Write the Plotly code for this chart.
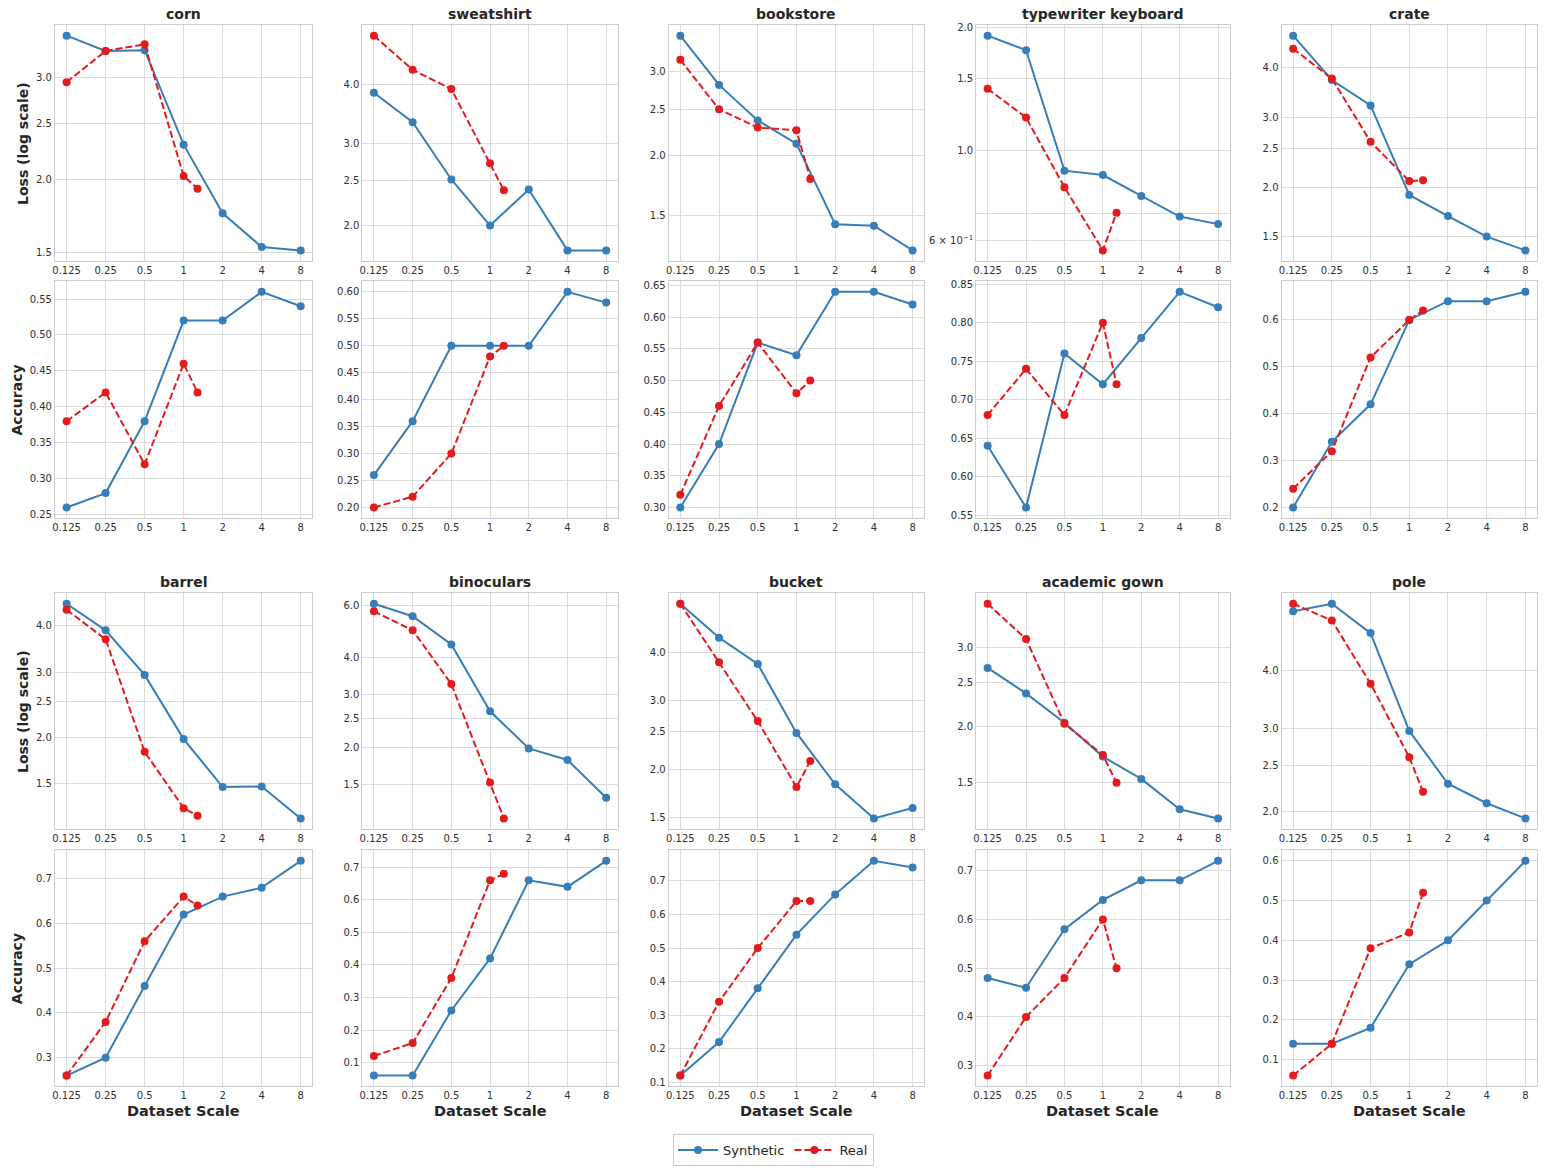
import math
import plotly.graph_objects as go

# ---------------- data ----------------
class_names = ["corn", "sweatshirt", "bookstore", "typewriter keyboard", "crate",
               "barrel", "binoculars", "bucket", "academic gown", "pole"]
syn_scale = [0.125, 0.25, 0.5, 1, 2, 4, 8]
real_scale = [0.125, 0.25, 0.5, 1, 1.28]
x_tick_vals = [0.125, 0.25, 0.5, 1, 2, 4, 8]
x_tick_text = ["0.125", "0.25", "0.5", "1", "2", "4", "8"]
loss_tick_vals = [0.6, 0.7, 1.0, 1.5, 2.0, 2.5, 3.0, 4.0, 6.0]
loss_tick_text = ["6 × 10<sup>−1</sup>", " ", "1.0", "1.5", "2.0", "2.5", "3.0", "4.0", "6.0"]

corn_syn_loss = [3.55, 3.34, 3.35, 2.30, 1.75, 1.53, 1.51]
corn_real_loss = [2.95, 3.34, 3.43, 2.03, 1.93]
sweatshirt_syn_loss = [3.85, 3.33, 2.51, 2.00, 2.39, 1.77, 1.77]
sweatshirt_real_loss = [5.10, 4.31, 3.92, 2.72, 2.38]
bookstore_syn_loss = [3.56, 2.81, 2.37, 2.12, 1.44, 1.43, 1.27]
bookstore_real_loss = [3.17, 2.50, 2.29, 2.26, 1.79]
typewriter_syn_loss = [1.915, 1.764, 0.892, 0.870, 0.773, 0.688, 0.659]
typewriter_real_loss = [1.418, 1.205, 0.812, 0.568, 0.703]
crate_syn_loss = [4.81, 3.72, 3.21, 1.91, 1.69, 1.50, 1.385]
crate_real_loss = [4.46, 3.75, 2.60, 2.07, 2.08]
barrel_syn_loss = [4.59, 3.89, 2.95, 1.98, 1.47, 1.475, 1.21]
barrel_real_loss = [4.42, 3.68, 1.83, 1.29, 1.23]
binoculars_syn_loss = [6.08, 5.52, 4.43, 2.64, 1.98, 1.81, 1.35]
binoculars_real_loss = [5.73, 4.95, 3.26, 1.52, 1.15]
bucket_syn_loss = [5.33, 4.36, 3.73, 2.48, 1.83, 1.495, 1.59]
bucket_real_loss = [5.33, 3.77, 2.66, 1.80, 2.10]
gown_syn_loss = [2.70, 2.37, 2.04, 1.715, 1.53, 1.31, 1.25]
gown_real_loss = [3.75, 3.13, 2.03, 1.73, 1.50]
pole_syn_loss = [5.36, 5.56, 4.81, 2.97, 2.29, 2.08, 1.93]
pole_real_loss = [5.56, 5.12, 3.75, 2.61, 2.20]

corn_syn_acc = [0.26, 0.28, 0.38, 0.52, 0.52, 0.56, 0.54]
corn_real_acc = [0.38, 0.42, 0.32, 0.46, 0.42]
sweatshirt_syn_acc = [0.26, 0.36, 0.50, 0.50, 0.50, 0.60, 0.58]
sweatshirt_real_acc = [0.20, 0.22, 0.30, 0.48, 0.50]
bookstore_syn_acc = [0.30, 0.40, 0.56, 0.54, 0.64, 0.64, 0.62]
bookstore_real_acc = [0.32, 0.46, 0.56, 0.48, 0.50]
typewriter_syn_acc = [0.64, 0.56, 0.76, 0.72, 0.78, 0.84, 0.82]
typewriter_real_acc = [0.68, 0.74, 0.68, 0.80, 0.72]
crate_syn_acc = [0.20, 0.34, 0.42, 0.60, 0.64, 0.64, 0.66]
crate_real_acc = [0.24, 0.32, 0.52, 0.60, 0.62]
barrel_syn_acc = [0.26, 0.30, 0.46, 0.62, 0.66, 0.68, 0.74]
barrel_real_acc = [0.26, 0.38, 0.56, 0.66, 0.64]
binoculars_syn_acc = [0.06, 0.06, 0.26, 0.42, 0.66, 0.64, 0.72]
binoculars_real_acc = [0.12, 0.16, 0.36, 0.66, 0.68]
bucket_syn_acc = [0.12, 0.22, 0.38, 0.54, 0.66, 0.76, 0.74]
bucket_real_acc = [0.12, 0.34, 0.50, 0.64, 0.64]
gown_syn_acc = [0.48, 0.46, 0.58, 0.64, 0.68, 0.68, 0.72]
gown_real_acc = [0.28, 0.40, 0.48, 0.60, 0.50]
pole_syn_acc = [0.14, 0.14, 0.18, 0.34, 0.40, 0.50, 0.60]
pole_real_acc = [0.06, 0.14, 0.38, 0.42, 0.52]

syn_loss_list = [corn_syn_loss, sweatshirt_syn_loss, bookstore_syn_loss, typewriter_syn_loss, crate_syn_loss,
                 barrel_syn_loss, binoculars_syn_loss, bucket_syn_loss, gown_syn_loss, pole_syn_loss]
real_loss_list = [corn_real_loss, sweatshirt_real_loss, bookstore_real_loss, typewriter_real_loss, crate_real_loss,
                  barrel_real_loss, binoculars_real_loss, bucket_real_loss, gown_real_loss, pole_real_loss]
syn_acc_list = [corn_syn_acc, sweatshirt_syn_acc, bookstore_syn_acc, typewriter_syn_acc, crate_syn_acc,
                barrel_syn_acc, binoculars_syn_acc, bucket_syn_acc, gown_syn_acc, pole_syn_acc]
real_acc_list = [corn_real_acc, sweatshirt_real_acc, bookstore_real_acc, typewriter_real_acc, crate_real_acc,
                 barrel_real_acc, binoculars_real_acc, bucket_real_acc, gown_real_acc, pole_real_acc]

# ---------------- style / layout ----------------
W, H = 1544, 1173
SYN_COLOR = "#377eb8"
REAL_COLOR = "#e41a1c"
GRID = "#dcdcdc"
SPINE = "#cccccc"
TICK_COLOR = "#303030"
TITLE_COLOR = "#262626"
FONT = "DejaVu Sans"
col_px = [(52, 310), (360, 616), (667, 923), (975, 1229), (1281, 1537)]
row_px = [(23, 260), (280, 518), (593, 830), (851, 1088)]


def xdom(c):
    return [col_px[c][0] / W, col_px[c][1] / W]


def ydom(r):
    return [1 - row_px[r][1] / H, 1 - row_px[r][0] / H]


def padded(lo, hi, frac=0.05):
    s = hi - lo
    return [lo - frac * s, hi + frac * s]


fig = go.Figure()
layout = dict(
    width=W, height=H,
    margin=dict(l=0, r=0, t=0, b=0),
    paper_bgcolor="white", plot_bgcolor="white",
    font=dict(family=FONT, size=10, color=TICK_COLOR),
    showlegend=True,
    legend=dict(orientation="h", x=0.5, xanchor="center", y=1 - 1152 / H, yanchor="middle",
                bordercolor=SPINE, borderwidth=1, font=dict(size=13, family=FONT, color=TITLE_COLOR),
                bgcolor="white", itemwidth=40),
)
annotations = []

all_x = syn_scale + real_scale
xr = padded(math.log10(min(all_x)), math.log10(max(all_x)))

for g in range(2):
    for c in range(5):
        k = g * 5 + c
        for m in range(2):  # 0 loss, 1 accuracy
            r = 2 * g + m
            n = r * 5 + c + 1
            xa = "x" if n == 1 else f"x{n}"
            ya = "y" if n == 1 else f"y{n}"
            ys = syn_loss_list[k] if m == 0 else syn_acc_list[k]
            yr_ = real_loss_list[k] if m == 0 else real_acc_list[k]
            fig.add_trace(go.Scatter(
                x=syn_scale, y=ys, mode="lines+markers", name="Synthetic",
                line=dict(color=SYN_COLOR, width=2), marker=dict(size=8, color=SYN_COLOR),
                showlegend=(n == 1), legendgroup="syn", xaxis=xa, yaxis=ya))
            fig.add_trace(go.Scatter(
                x=real_scale, y=yr_, mode="lines+markers", name="Real",
                line=dict(color=REAL_COLOR, width=2, dash="7px,3px"), marker=dict(size=8, color=REAL_COLOR),
                showlegend=(n == 1), legendgroup="real", xaxis=xa, yaxis=ya))

            axcommon = dict(showgrid=True, gridcolor=GRID, gridwidth=1, showline=True, mirror=True,
                            linecolor=SPINE, linewidth=1, zeroline=False, ticks="",
                            tickfont=dict(family=FONT, size=10, color=TICK_COLOR))
            layout["xaxis" if n == 1 else f"xaxis{n}"] = dict(
                axcommon, type="log", domain=xdom(c), anchor=ya, range=xr,
                tickmode="array", tickvals=x_tick_vals, ticktext=x_tick_text)
            vals = ys + yr_
            if m == 0:
                lr = padded(math.log10(min(vals)), math.log10(max(vals)))
                tv, tt = [], []
                for v, t in zip(loss_tick_vals, loss_tick_text):
                    if lr[0] <= math.log10(v) <= lr[1]:
                        tv.append(v)
                        tt.append(t)
                layout["yaxis" if n == 1 else f"yaxis{n}"] = dict(
                    axcommon, type="log", domain=ydom(r), anchor=xa, range=lr,
                    tickmode="array", tickvals=tv, ticktext=tt)
            else:
                ar = padded(min(vals), max(vals))
                fine = (ar[1] - ar[0]) < 0.47
                layout["yaxis" if n == 1 else f"yaxis{n}"] = dict(
                    axcommon, domain=ydom(r), anchor=xa, range=ar,
                    tick0=0, dtick=0.05 if fine else 0.1, tickformat=".2f" if fine else ".1f")

        # panel title
        cx = (col_px[c][0] + col_px[c][1]) / 2 / W
        ty = row_px[2 * g][0] - 11
        annotations.append(dict(text=f"<b>{class_names[k]}</b>", x=cx, y=1 - ty / H, xref="paper", yref="paper",
                                xanchor="center", yanchor="middle", showarrow=False,
                                font=dict(family=FONT, size=14, color=TITLE_COLOR)))

# y axis titles
for r in range(4):
    cy = 1 - (row_px[r][0] + row_px[r][1]) / 2 / H
    txt = "<b>Loss (log scale)</b>" if r % 2 == 0 else "<b>Accuracy</b>"
    xpix = 20 if r % 2 == 0 else 14
    annotations.append(dict(text=txt, x=xpix / W, y=cy, xref="paper", yref="paper", textangle=-90,
                            xanchor="center", yanchor="middle", showarrow=False,
                            font=dict(family=FONT, size=14, color=TITLE_COLOR)))
# x axis titles
for c in range(5):
    cx = (col_px[c][0] + col_px[c][1]) / 2 / W
    annotations.append(dict(text="<b>Dataset Scale</b>", x=cx, y=1 - 1113 / H, xref="paper", yref="paper",
                            xanchor="center", yanchor="middle", showarrow=False,
                            font=dict(family=FONT, size=14.5, color=TITLE_COLOR)))

layout["annotations"] = annotations
fig.update_layout(layout)

fig.write_html("out.html", config={"displayModeBar": False},
               post_script="document.body.style.margin='0';document.body.style.overflow='hidden';")
